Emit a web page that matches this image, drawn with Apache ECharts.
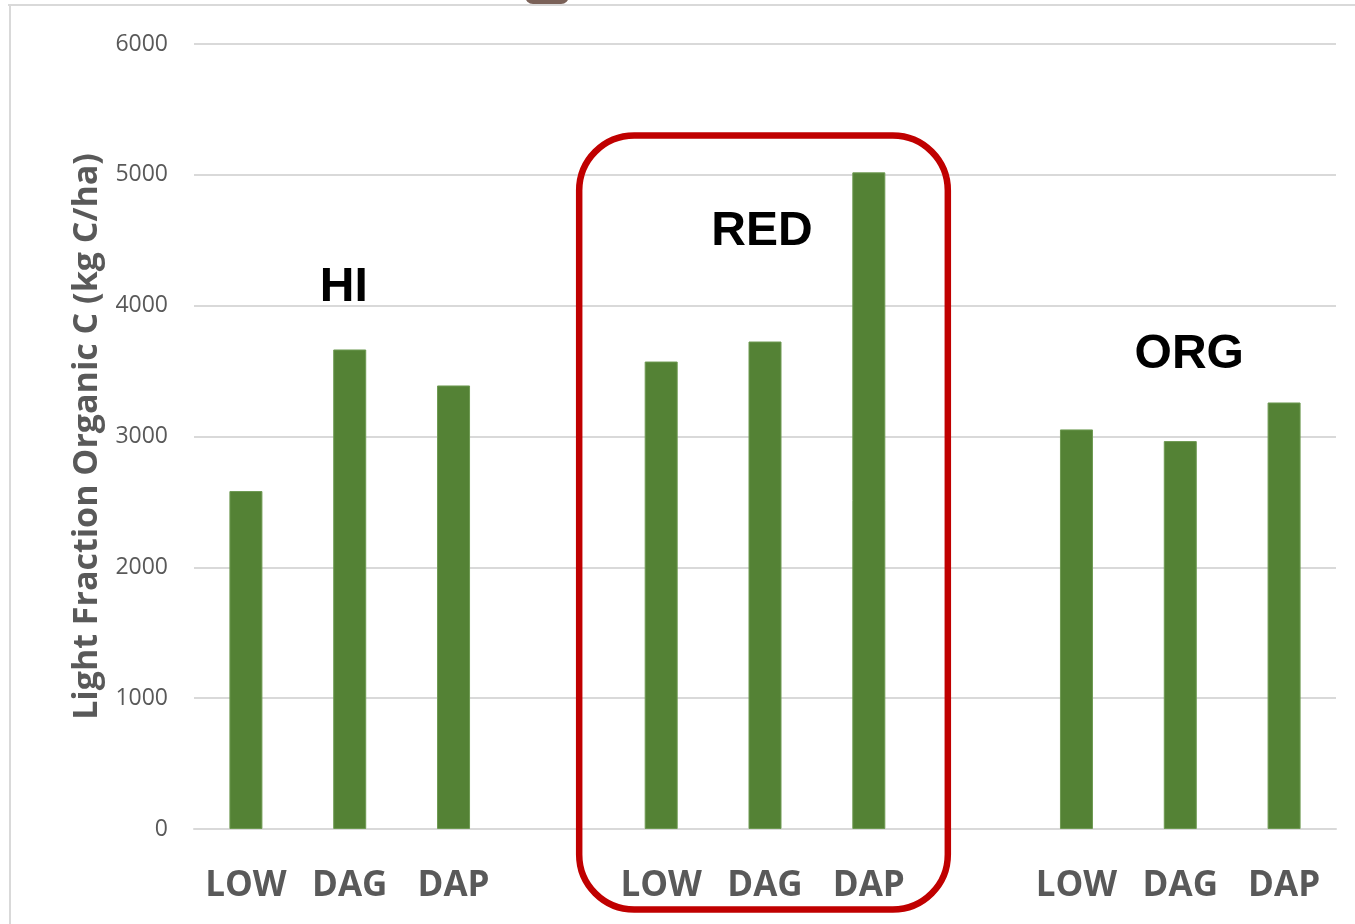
<!DOCTYPE html>
<html>
<head>
<meta charset="utf-8">
<title>Light Fraction Organic C</title>
<script src="https://cdn.jsdelivr.net/npm/echarts@6/dist/echarts.min.js"></script>
<style>
  html, body { margin: 0; padding: 0; background: #ffffff; }
  #chart { width: 1355px; height: 924px; }
</style>
</head>
<body>
<div id="chart"></div>
<script>
// Treatments along the x axis; empty slots separate the three systems
const categories = ['LOW', 'DAG', 'DAP', '', 'LOW', 'DAG', 'DAP', '', 'LOW', 'DAG', 'DAP'];
// Light fraction organic C (kg C/ha) per treatment, '-' for spacer slots
const carbonValues = [2583, 3665, 3390, '-', 3573, 3726, 5019, '-', 3054, 2965, 3260];
// System names drawn above each group
const groupNames = ['HI', 'RED', 'ORG'];
// Y axis range
const yMin = 0, yMax = 6000, yStep = 1000;

// Placement of the system names: category index, value height, pixel nudge
const groupAnchors = [1, 5, 9];
const groupHeights = [4140, 4565, 3625];
const groupNudgeX = [-6, -3, 9];

const chart = echarts.init(document.getElementById('chart'), null, { renderer: 'canvas' });

const gray = '#595959';
const lineGray = '#d9d9d9';

chart.setOption({
  animation: false,
  grid: { left: 194, right: 19, top: 44, bottom: 95 },
  xAxis: {
    type: 'category',
    data: categories,
    axisLine: { show: true, lineStyle: { color: lineGray, width: 2 } },
    axisTick: { show: false },
    axisLabel: {
      color: gray,
      fontFamily: 'Open Sans',
      fontWeight: 'bold',
      fontSize: 35,
      lineHeight: 36,
      margin: 39,
      interval: 0
    }
  },
  yAxis: {
    type: 'value',
    min: yMin,
    max: yMax,
    interval: yStep,
    name: 'Light Fraction Organic C (kg C/ha)',
    nameLocation: 'middle',
    nameGap: 90,
    nameTextStyle: {
      color: gray,
      fontFamily: 'Open Sans',
      fontWeight: 'bold',
      fontSize: 34
    },
    axisLine: { show: false },
    axisTick: { show: false },
    axisLabel: {
      color: gray,
      fontFamily: 'Open Sans',
      fontSize: 23,
      margin: 26,
      padding: [6, 0, 0, 0],
      formatter: function (v) { return String(v); }
    },
    splitLine: { lineStyle: { color: lineGray, width: 2 } }
  },
  series: [{
    type: 'bar',
    data: carbonValues,
    barWidth: 33,
    itemStyle: { color: '#548235', borderColor: '#6e9a52', borderWidth: 1 },
    silent: true
  }]
});

// Frame, highlight box and system labels placed from axis coordinates
function drawOverlay() {
  const elements = [
    { type: 'line', shape: { x1: 8, y1: 5, x2: 1355, y2: 5 }, style: { stroke: lineGray, lineWidth: 2 }, z: 10 },
    { type: 'line', shape: { x1: 10, y1: 5, x2: 10, y2: 924 }, style: { stroke: lineGray, lineWidth: 2 }, z: 10 },
    { type: 'rect', shape: { x: 525, y: -12, width: 44, height: 16, r: 8 }, style: { fill: '#7a6158' }, z: 10 }
  ];

  groupNames.forEach(function (name, i) {
    const p = chart.convertToPixel({ gridIndex: 0 }, [groupAnchors[i], groupHeights[i]]);
    elements.push({
      type: 'text',
      x: p[0] + groupNudgeX[i],
      y: p[1],
      style: {
        text: name,
        fontFamily: 'Liberation Sans',
        fontWeight: 'bold',
        fontSize: 48,
        fill: '#000000',
        align: 'center',
        verticalAlign: 'middle'
      },
      z: 20
    });
  });

  // Rounded box around the RED system
  const left = chart.convertToPixel({ gridIndex: 0 }, [4, 0])[0] - 82;
  const right = chart.convertToPixel({ gridIndex: 0 }, [6, 0])[0] + 79;
  elements.push({
    type: 'rect',
    shape: { x: left, y: 135.5, width: right - left, height: 774, r: 55 },
    style: { fill: 'none', stroke: '#c00000', lineWidth: 6.5 },
    z: 15
  });

  chart.setOption({ graphic: { elements: elements } });
}
drawOverlay();
</script>
</body>
</html>
